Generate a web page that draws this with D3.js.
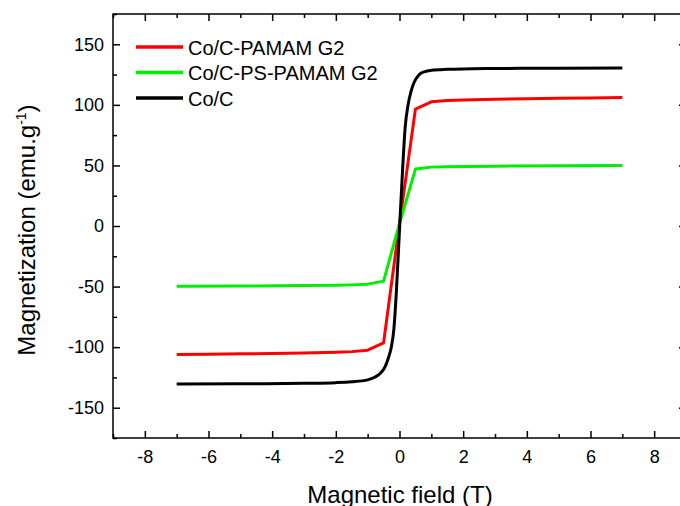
<!DOCTYPE html>
<html>
<head>
<meta charset="utf-8">
<script src="https://d3js.org/d3.v7.min.js"></script>
<style>
  body { margin: 0; background: #fff; }
  text { font-family: "Liberation Sans", Arial, sans-serif; fill: #000; }
</style>
</head>
<body>
<script>
// series data (field in T, magnetization in emu/g)
var coc_x = [-7, -5, -3, -2, -1.5, -1, -0.75, -0.6, -0.45, -0.35, -0.25, -0.18, -0.1, 0, 0.1, 0.18, 0.27, 0.36, 0.45, 0.6, 0.8, 1, 1.5, 2, 3, 5, 7];
var coc_y = [-130.5, -130.3, -129.8, -129.3, -128.6, -127, -124.5, -121.5, -116, -109, -99, -86, -55, -3, 48, 82, 100, 111, 118, 124.5, 127.5, 128.5, 129.3, 129.7, 130, 130.3, 130.5];

var pamam_x = [-7, -6, -5, -4, -3, -2, -1.5, -1, -0.5, 0, 0.5, 1, 1.5, 2, 3, 4, 5, 6, 7];
var pamam_y = [-106, -105.8, -105.5, -105.2, -104.8, -104.2, -103.7, -102.5, -96.5, 2, 96.5, 102.5, 103.5, 104, 104.6, 105, 105.4, 105.7, 106];

var ps_x = [-7, -5, -3, -2, -1.5, -1, -0.5, 0, 0.5, 1, 1.5, 2, 3, 5, 7];
var ps_y = [-49.8, -49.5, -49.2, -49, -48.6, -48, -45.5, 2, 47, 48.6, 49, 49.2, 49.4, 49.8, 50];

var seriesNames = ["Co/C-PAMAM G2", "Co/C-PS-PAMAM G2", "Co/C"];
var seriesColors = ["#ff0000", "#00ee00", "#000000"];

var xTicks = [-8, -6, -4, -2, 0, 2, 4, 6, 8];
var xMinor = [-9, -7, -5, -3, -1, 1, 3, 5, 7, 9];
var yTicks = [-150, -100, -50, 0, 50, 100, 150];
var yMinor = [-175, -125, -75, -25, 25, 75, 125, 175];

var W = 680, H = 506;
var mLeft = 113, mRight = 686, mTop = 14, mBottom = 438;

var svg = d3.select("body").append("svg").attr("width", W).attr("height", H);

var x = d3.scaleLinear().domain([-9, 9]).range([mLeft, mRight]);
var y = d3.scaleLinear().domain([-175, 175]).range([mBottom, mTop]);

function zip(xs, ys) { return xs.map(function(v, i) { return [v, ys[i]]; }); }
var series = [zip(pamam_x, pamam_y), zip(ps_x, ps_y), zip(coc_x, coc_y)];

// plain hyphen minus like the original
var fmt = function(d) { return String(d); };

// axes, ticks pointing inward
function styleAxis(g) {
  g.select(".domain").remove();
  g.selectAll("line").attr("stroke", "#000").attr("stroke-width", 1.5);
  g.selectAll("text").style("font-size", "18px").attr("font-family", null);
}

svg.append("g").attr("transform", "translate(0," + mBottom + ")")
  .call(d3.axisBottom(x).tickValues(xTicks).tickSize(-7).tickSizeOuter(0).tickPadding(12).tickFormat(fmt))
  .call(styleAxis);
svg.append("g").attr("transform", "translate(0," + mBottom + ")")
  .call(d3.axisBottom(x).tickValues(xMinor).tickSize(-4).tickSizeOuter(0).tickFormat(""))
  .call(styleAxis);
svg.append("g").attr("transform", "translate(0," + mTop + ")")
  .call(d3.axisTop(x).tickValues(xTicks).tickSize(-7).tickSizeOuter(0).tickFormat(""))
  .call(styleAxis);
svg.append("g").attr("transform", "translate(0," + mTop + ")")
  .call(d3.axisTop(x).tickValues(xMinor).tickSize(-4).tickSizeOuter(0).tickFormat(""))
  .call(styleAxis);

svg.append("g").attr("transform", "translate(" + mLeft + ",0)")
  .call(d3.axisLeft(y).tickValues(yTicks).tickSize(-7).tickSizeOuter(0).tickPadding(9).tickFormat(fmt))
  .call(styleAxis);
svg.append("g").attr("transform", "translate(" + mLeft + ",0)")
  .call(d3.axisLeft(y).tickValues(yMinor).tickSize(-4).tickSizeOuter(0).tickFormat(""))
  .call(styleAxis);
svg.append("g").attr("transform", "translate(" + mRight + ",0)")
  .call(d3.axisRight(y).tickValues(yTicks).tickSize(-7).tickSizeOuter(0).tickFormat(""))
  .call(styleAxis);
svg.append("g").attr("transform", "translate(" + mRight + ",0)")
  .call(d3.axisRight(y).tickValues(yMinor).tickSize(-4).tickSizeOuter(0).tickFormat(""))
  .call(styleAxis);

// frame
svg.append("rect")
  .attr("x", mLeft).attr("y", mTop)
  .attr("width", mRight - mLeft).attr("height", mBottom - mTop)
  .attr("fill", "none").attr("stroke", "#000").attr("stroke-width", 1.5);

// curves
var line = d3.line()
  .x(function(d) { return x(d[0]); })
  .y(function(d) { return y(d[1]); });
var smooth = d3.line()
  .x(function(d) { return x(d[0]); })
  .y(function(d) { return y(d[1]); })
  .curve(d3.curveMonotoneX);

series.forEach(function(s, i) {
  svg.append("path")
    .datum(s)
    .attr("d", i == 2 ? smooth : line)
    .attr("fill", "none")
    .attr("stroke", seriesColors[i])
    .attr("stroke-width", 3)
    .attr("stroke-linejoin", "round");
});

// legend
var leg = svg.append("g");
seriesNames.forEach(function(n, i) {
  var ly = 47 + i * 25.5;
  leg.append("line")
    .attr("x1", 136).attr("x2", 183)
    .attr("y1", ly).attr("y2", ly)
    .attr("stroke", seriesColors[i]).attr("stroke-width", 3.5);
  leg.append("text")
    .attr("x", 188).attr("y", ly + 7.5)
    .style("font-size", "20px")
    .text(n);
});

// axis titles
svg.append("text")
  .attr("x", 400).attr("y", 503)
  .attr("text-anchor", "middle")
  .style("font-size", "24px")
  .text("Magnetic field (T)");

var yt = svg.append("text")
  .attr("transform", "translate(35,230) rotate(-90)")
  .attr("text-anchor", "middle")
  .style("font-size", "24px");
yt.append("tspan").text("Magnetization (emu.g");
yt.append("tspan").attr("dy", -9).style("font-size", "14px").text("-1");
yt.append("tspan").attr("dy", 9).text(")");
</script>
</body>
</html>
